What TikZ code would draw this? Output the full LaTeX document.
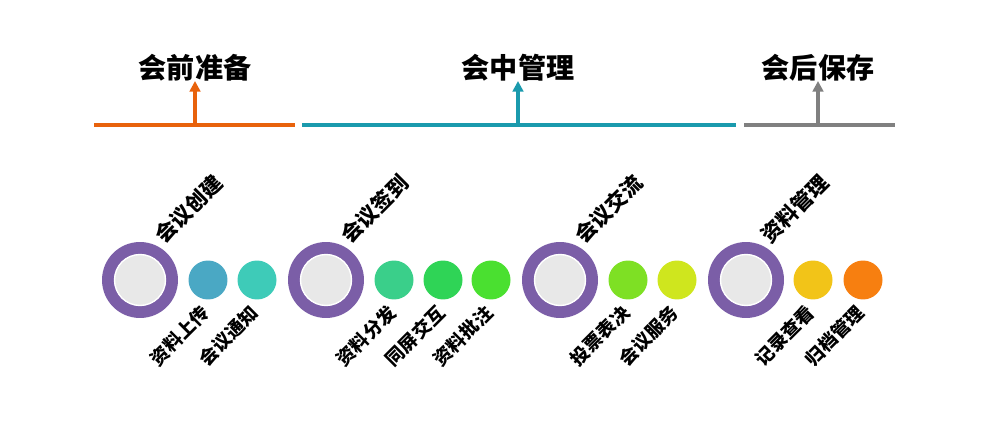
\documentclass[tikz,border=0pt]{standalone}
\usepackage{fontspec}
\usepackage{xcolor}
\usepackage{tikz}
\usetikzlibrary{positioning,arrows.meta}
\newfontfamily\cjk{Noto Sans CJK SC}

\definecolor{preOrange}{HTML}{E8620C}
\definecolor{midTeal}{HTML}{1A9AAD}
\definecolor{postGray}{HTML}{808080}
\definecolor{hubPurple}{HTML}{7B5EA7}
\definecolor{hubGray}{HTML}{E8E8E8}

\tikzset{
  phase/.style={font=\cjk\bfseries\fontsize{16}{16}\selectfont, inner sep=0pt},
  phaseline/.style={line width=2.3pt},
  hub/.style={circle, fill=hubPurple, minimum size=1.52cm, inner sep=0pt},
  hubcore/.style={circle, fill=hubGray, draw=white, line width=0.8pt, minimum size=1.02cm, inner sep=0pt},
  dot/.style={circle, minimum size=0.78cm, inner sep=0pt},
  toplabel/.style={rotate=45, font=\cjk\bfseries\fontsize{12}{12}\selectfont, inner sep=0pt},
  sublabel/.style={rotate=45, font=\cjk\bfseries\fontsize{10.5}{10.5}\selectfont, inner sep=0pt}
}

\begin{document}
\begin{tikzpicture}[x=0.02cm, y=-0.02cm]
\useasboundingbox (0,0) rectangle (1000,442);

% phases
\node[phase] (pre) at (195,68) {会前准备};
\node[phase] (mid) at (518,68) {会中管理};
\node[phase] (post) at (818,68) {会后保存};

\coordinate (preL) at (94,125);  \coordinate (preR) at (295,125);
\coordinate (midL) at (302,125); \coordinate (midR) at (736,125);
\coordinate (postL) at (744,125); \coordinate (postR) at (895,125);
\coordinate (preB) at (195,125); \coordinate (preT) at (195,81);
\coordinate (midB) at (518,125); \coordinate (midT) at (518,81);
\coordinate (postB) at (818,125); \coordinate (postT) at (818,81);

\draw[phaseline, preOrange] (preL) -- (preR);
\draw[phaseline, midTeal] (midL) -- (midR);
\draw[phaseline, postGray] (postL) -- (postR);
\draw[phaseline, preOrange, -{Triangle[length=6pt, width=6pt]}] (preB) -- (preT);
\draw[phaseline, midTeal, -{Triangle[length=6pt, width=6pt]}] (midB) -- (midT);
\draw[phaseline, postGray, -{Triangle[length=6pt, width=6pt]}] (postB) -- (postT);

% hubs
\node[hub] (hub1) at (140,280) {};
\node[hub] (hub2) at (326,280) {};
\node[hub] (hub3) at (560,280) {};
\node[hub] (hub4) at (746,280) {};
\node[hubcore] at (hub1) {};
\node[hubcore] at (hub2) {};
\node[hubcore] at (hub3) {};
\node[hubcore] at (hub4) {};

\node[toplabel] (hub1_lbl) at (189,209) {会议创建};
\node[toplabel] (hub2_lbl) at (375,209) {会议签到};
\node[toplabel] (hub3_lbl) at (609,209) {会议交流};
\node[toplabel] (hub4_lbl) at (795,209) {资料管理};

% steps
\node[dot, fill={rgb,255:red,74;green,168;blue,196}] (dot1) at (208,280) {};
\node[dot, fill={rgb,255:red,62;green,203;blue,184}] (dot2) at (257,280) {};
\node[dot, fill={rgb,255:red,58;green,207;blue,138}] (dot3) at (394,280) {};
\node[dot, fill={rgb,255:red,47;green,212;blue,86}] (dot4) at (443,280) {};
\node[dot, fill={rgb,255:red,74;green,224;blue,48}] (dot5) at (491,280) {};
\node[dot, fill={rgb,255:red,126;green,224;blue,36}] (dot6) at (628,280) {};
\node[dot, fill={rgb,255:red,207;green,230;blue,30}] (dot7) at (677,280) {};
\node[dot, fill={rgb,255:red,242;green,196;blue,24}] (dot8) at (813,280) {};
\node[dot, fill={rgb,255:red,247;green,127;blue,16}] (dot9) at (863,280) {};

\node[sublabel] (dot1_lbl) at (180,336) {资料上传};
\node[sublabel] (dot2_lbl) at (229,336) {会议通知};
\node[sublabel] (dot3_lbl) at (366,336) {资料分发};
\node[sublabel] (dot4_lbl) at (415,336) {同屏交互};
\node[sublabel] (dot5_lbl) at (463,336) {资料批注};
\node[sublabel] (dot6_lbl) at (600,336) {投票表决};
\node[sublabel] (dot7_lbl) at (649,336) {会议服务};
\node[sublabel] (dot8_lbl) at (785,336) {记录查看};
\node[sublabel] (dot9_lbl) at (835,336) {归档管理};

\end{tikzpicture}
\end{document}
